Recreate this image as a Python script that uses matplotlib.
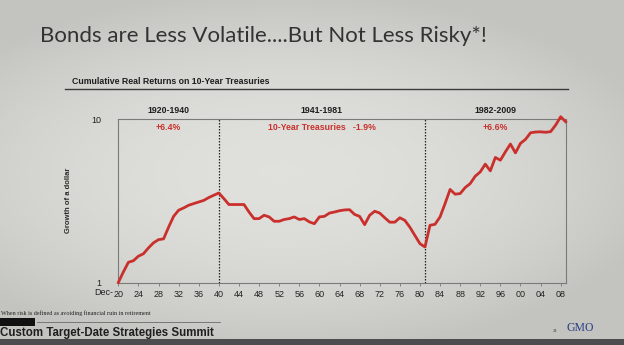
import numpy as np
import matplotlib
matplotlib.use('Agg')
import matplotlib.pyplot as plt
import matplotlib.patches as mpatches
import matplotlib.transforms as mtransforms
from matplotlib.colors import LinearSegmentedColormap

# ── data ───────────────────────────────────────────────────
years = list(range(1920, 2010))
growth = [
    1.00, 1.16, 1.33, 1.36, 1.45, 1.50, 1.63, 1.75, 1.83, 1.85,   # 1920-29
    2.18, 2.54, 2.77, 2.86, 2.97, 3.04, 3.11, 3.18, 3.31, 3.42,   # 1930-39
    3.53, 3.26, 3.00, 3.00, 3.00, 3.00, 2.70, 2.46, 2.46, 2.58,   # 1940-49
    2.52, 2.37, 2.37, 2.43, 2.46, 2.52, 2.43, 2.46, 2.35, 2.29,   # 1950-59
    2.52, 2.54, 2.66, 2.70, 2.75, 2.78, 2.79, 2.61, 2.54, 2.26,   # 1960-69
    2.58, 2.73, 2.66, 2.49, 2.34, 2.34, 2.49, 2.40, 2.18, 1.94,   # 1970-79
    1.73, 1.65, 2.24, 2.27, 2.52, 3.04, 3.71, 3.47, 3.50, 3.81,   # 1980-89
    4.03, 4.47, 4.75, 5.30, 4.82, 5.82, 5.60, 6.30, 7.03, 6.21,   # 1990-99
    7.10, 7.51, 8.24, 8.33, 8.35, 8.30, 8.37, 9.19, 10.33, 9.62,  # 2000-09
]
tick_years = list(range(1920, 2009, 4))
tick_labels = [f'{y % 100:02d}' for y in tick_years]
breaks = [1940, 1981]
periods = ['1920-1940', '1941-1981', '1982-2009']
period_mid = [1930, 1960.5, 1995]
period_ret = ['+6.4%', '10-Year Treasuries   -1.9%', '+6.6%']

RED = '#c9302c'
SANS = ['Liberation Sans', 'DejaVu Sans']
SERIF = ['Liberation Serif', 'DejaVu Serif']

fig = plt.figure(figsize=(6.24, 3.45), dpi=100)

# photo-like slide background (grey with a soft vignette)
bg = fig.add_axes([0, 0, 1, 1], zorder=-10)
yy, xx = np.mgrid[0:1:200j, 0:1:300j]
shade = 1 - ((xx - 0.45) ** 2 * 1.0 + (yy - 0.5) ** 2 * 1.4)
slide = LinearSegmentedColormap.from_list('slide', ['#c3c3bf', '#e0e0dc'])
bg.imshow(shade, cmap=slide, vmin=0.6, vmax=1.0, aspect='auto',
          extent=[0, 1, 0, 1], origin='lower')
bg.add_patch(mpatches.Rectangle((0, 0), 1, 0.018, fc='#4d4d50', ec='none'))
bg.set_xlim(0, 1); bg.set_ylim(0, 1)
bg.set_axis_off()

# slide title
fig.text(0.064, 0.896, 'Bonds are Less Volatile....But Not Less Risky*!',
         family=['Lato', 'DejaVu Sans'], fontweight='normal', fontsize=16,
         color='#333333', va='center', ha='left')

# chart title + rule
fig.text(0.115, 0.765, 'Cumulative Real Returns on 10-Year Treasuries',
         family=SANS, fontsize=6.3, fontweight='bold', color='#1e1e1e',
         va='center')
fig.add_artist(plt.Line2D([0.104, 0.91], [0.742, 0.742], color='#3a3a3a', lw=1.0))

# main axes
ax = fig.add_axes([0.1896, 0.181, 0.717, 0.474])
ax.patch.set_alpha(0)
ax.plot(years, growth, color=RED, lw=2.0, clip_on=False, zorder=5,
        solid_joinstyle='round')
ax.set_yscale('log')
ax.set_ylim(1, 10)
ax.set_xlim(1920, 2009)
for b in breaks:
    ax.axvline(b, color='#222222', lw=0.9, ls=(0, (1.2, 1.2)), zorder=3)

ax.set_yticks([1, 10])
ax.set_yticklabels(['1', '10'])
ax.yaxis.set_minor_locator(matplotlib.ticker.NullLocator())
ax.tick_params(axis='y', length=0, pad=12, labelsize=6.5, labelcolor='#222222')
ax.set_xticks(tick_years)
ax.set_xticklabels(tick_labels)
ax.tick_params(axis='x', length=2.5, width=0.6, color='#777777', pad=3,
               labelsize=6.5, labelcolor='#222222')
for lab in ax.get_xticklabels() + ax.get_yticklabels():
    lab.set_family(SANS)
for sp in ax.spines.values():
    sp.set_color('#7a7a7a')
    sp.set_linewidth(0.8)

ax.text(-0.012, -0.035, 'Dec-', transform=ax.transAxes, ha='right', va='top',
        family=SANS, fontsize=6.5, color='#222222')
ax.set_ylabel('Growth of a dollar', family=SANS, fontsize=5.5,
              fontweight='bold', color='#2a2a2a', labelpad=14)

trans = mtransforms.blended_transform_factory(ax.transData, ax.transAxes)
for mid, p, r in zip(period_mid, periods, period_ret):
    ax.text(mid, 1.05, p, transform=trans, ha='center', va='center',
            family=SANS, fontsize=6.3, fontweight='bold', color='#1e1e1e')
    ax.text(mid, 0.95, r, transform=trans, ha='center', va='center',
            family=SANS, fontsize=6.3, fontweight='bold', color=RED)

# footer
fig.text(0.002, 0.093, 'When risk is defined as avoiding financial ruin in retirement',
         family=SERIF, fontsize=4.4, color='#222222', va='center')
fig.add_artist(mpatches.Rectangle((0.0, 0.056), 0.056, 0.021, fc='#111111',
                                  ec='none', transform=fig.transFigure))
fig.add_artist(plt.Line2D([0.06, 0.352], [0.066, 0.066], color='#6a6a6a', lw=0.6))
fig.text(0.0, 0.035, 'Custom Target-Date Strategies Summit',
         family=SANS, fontsize=8.3, fontweight='bold', color='#1f1f1f',
         va='center')
fig.text(0.886, 0.04, '21', family=SERIF, fontsize=3.5, color='#333333',
         va='center')
fig.text(0.908, 0.05, 'GMO', family=SERIF, fontsize=8.5, color='#2c3f86',
         va='center')

fig.savefig('out.png', dpi=100)
